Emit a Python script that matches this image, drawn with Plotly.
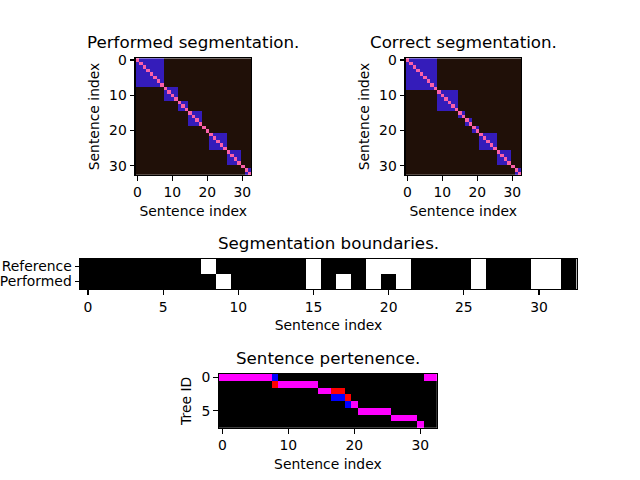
import plotly.graph_objects as go

# ---------------- data ----------------
N_SENT = 33
sentences = list(range(N_SENT))

# blocks (inclusive sentence ranges) visible in the two similarity matrices
performed_blocks = [(0, 7), (8, 11), (12, 14), (15, 18), (19, 19), (20, 20),
                    (21, 25), (26, 29), (30, 30), (31, 32)]
correct_blocks = [(0, 8), (9, 14), (15, 16), (17, 18), (19, 20),
                  (21, 25), (26, 29), (30, 30), (31, 32)]

# segmentation boundaries (1 = boundary at that sentence)
reference_boundaries = [0, 0, 0, 0, 0, 0, 0, 0, 1, 0, 0, 0, 0, 0, 0, 1, 0,
                        0, 0, 1, 1, 1, 0, 0, 0, 0, 1, 0, 0, 0, 1, 1, 0]
performed_boundaries = [0, 0, 0, 0, 0, 0, 0, 0, 0, 1, 0, 0, 0, 0, 0, 1, 0,
                        1, 0, 1, 0, 1, 0, 0, 0, 0, 1, 0, 0, 0, 1, 1, 0]
boundary_rows = ["Reference", "Performed"]

# tree id of every sentence (reference = red, performed = blue, both = magenta)
reference_tree = [0, 0, 0, 0, 0, 0, 0, 0, 1, 1, 1, 1, 1, 1, 1, 2, 2,
                  2, 2, 3, 4, 5, 5, 5, 5, 5, 6, 6, 6, 6, 7, 0, 0]
performed_tree = [0, 0, 0, 0, 0, 0, 0, 0, 0, 1, 1, 1, 1, 1, 1, 2, 2,
                  3, 3, 4, 4, 5, 5, 5, 5, 5, 6, 6, 6, 6, 7, 0, 0]
N_TREES = 8

# ---------------- styles ----------------
BG = "rgb(32,16,8)"
BLOCK = "rgb(52,28,186)"
DIAG = "rgb(250,96,168)"
FONT = "DejaVu Sans"
W, H = 640, 480


def sim_matrix(blocks):
    z = [[0] * N_SENT for _ in range(N_SENT)]
    for a, b in blocks:
        for i in range(a, b + 1):
            for j in range(a, b + 1):
                z[i][j] = 1
    for i in range(N_SENT):
        z[i][i] = 2
    return z


def px_x(a, b):
    return [a / W, b / W]


def px_y(top, bottom):
    return [1 - bottom / H, 1 - top / H]


def axis(domain, anchor, rng, tickvals, ticktext=None, title=None, standoff=6):
    d = dict(domain=domain, anchor=anchor, range=rng, tickvals=tickvals,
             ticks="outside", ticklen=4.9, tickwidth=1.1, tickcolor="black",
             showline=True, mirror=True, linecolor="black", linewidth=1.1,
             showgrid=False, zeroline=False, automargin=False,
             tickfont=dict(family=FONT, size=13.9, color="black"))
    if ticktext is not None:
        d["ticktext"] = ticktext
    if title:
        d["title"] = dict(text=title, font=dict(family=FONT, size=13.9, color="black"),
                          standoff=standoff)
    return d


def discrete_scale(colors):
    n = len(colors)
    cs = []
    for k, c in enumerate(colors):
        cs.append([k / n, c])
        cs.append([(k + 1) / n, c])
    return cs


fig = go.Figure()

# similarity heatmaps
fig.add_trace(go.Heatmap(z=sim_matrix(performed_blocks), x=sentences, y=sentences,
                         zmin=-0.5, zmax=2.5, colorscale=discrete_scale([BG, BLOCK, DIAG]),
                         showscale=False, xaxis="x", yaxis="y", hoverinfo="skip"))
fig.add_trace(go.Heatmap(z=sim_matrix(correct_blocks), x=sentences, y=sentences,
                         zmin=-0.5, zmax=2.5, colorscale=discrete_scale([BG, BLOCK, DIAG]),
                         showscale=False, xaxis="x2", yaxis="y2", hoverinfo="skip"))

# boundaries
fig.add_trace(go.Heatmap(z=[reference_boundaries, performed_boundaries], x=sentences, y=[0, 1],
                         zmin=-0.5, zmax=1.5, colorscale=discrete_scale(["black", "white"]),
                         showscale=False, xaxis="x3", yaxis="y3", hoverinfo="skip"))

# pertenence
pert = [[(1 if reference_tree[i] == t else 0) + (2 if performed_tree[i] == t else 0)
         for i in sentences] for t in range(N_TREES)]
fig.add_trace(go.Heatmap(z=pert, x=sentences, y=list(range(N_TREES)),
                         zmin=-0.5, zmax=3.5,
                         colorscale=discrete_scale(["black", "rgb(255,0,0)", "rgb(0,0,255)", "rgb(255,0,255)"]),
                         showscale=False, xaxis="x4", yaxis="y4", hoverinfo="skip"))

hm_top, hm_bot = 58.2, 174.7
ticks4 = [0, 10, 20, 30]
layout = dict(
    width=W, height=H, margin=dict(l=0, r=0, t=0, b=0),
    paper_bgcolor="white", plot_bgcolor="white", showlegend=False,
    xaxis=axis(px_x(135.55, 251.05), "y", [-0.5, 32.5], ticks4, title="Sentence index"),
    yaxis=axis(px_y(hm_top, hm_bot), "x", [32.5, -0.5], ticks4, title="Sentence index"),
    xaxis2=axis(px_x(405.55, 521.05), "y2", [-0.5, 32.5], ticks4, title="Sentence index"),
    yaxis2=axis(px_y(hm_top, hm_bot), "x2", [32.5, -0.5], ticks4, title="Sentence index"),
    xaxis3=axis(px_x(80.5, 576.6), "y3", [-0.5, 32.5], [0, 5, 10, 15, 20, 25, 30], title="Sentence index"),
    yaxis3=axis(px_y(259, 289), "x3", [1.5, -0.5], [0, 1], ticktext=boundary_rows),
    xaxis4=axis(px_x(219.0, 436.8), "y4", [-0.5, 32.5], ticks4, title="Sentence index"),
    yaxis4=axis(px_y(374, 427.7), "x4", [7.5, -0.5], [0, 5], title="Tree ID"),
)
fig.update_layout(**layout)

titles = [("Performed segmentation.", 193.3, 54.0),
          ("Correct segmentation.", 463.3, 54.0),
          ("Segmentation boundaries.", 328.5, 255.0),
          ("Sentence pertenence.", 327.9, 370.0)]
for text, cx, by in titles:
    fig.add_annotation(text=text, x=cx / W, y=1 - by / H, xref="paper", yref="paper",
                       xanchor="center", yanchor="bottom", showarrow=False,
                       font=dict(family=FONT, size=16.7, color="black"))

fig.write_html("out.html",
               config={"displayModeBar": False, "staticPlot": True},
               post_script="document.body.style.margin='0px';document.body.style.overflow='hidden';")
